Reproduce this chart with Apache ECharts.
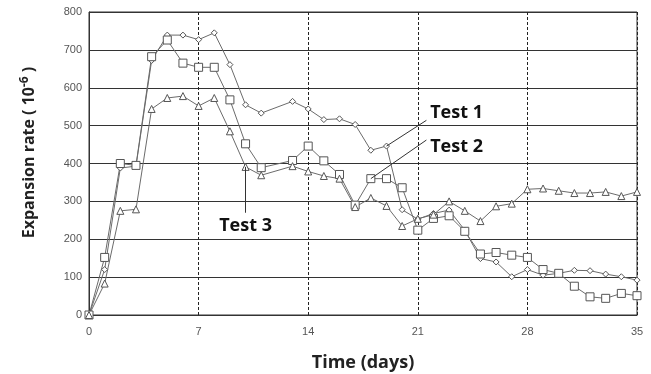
<!DOCTYPE html>
<html>
<head>
<meta charset="utf-8">
<script src="https://cdn.jsdelivr.net/npm/echarts@6/dist/echarts.min.js"></script>
<style>
  html, body { margin: 0; padding: 0; background: #fff; }
  #chart { width: 651px; height: 374px; }
</style>
</head>
<body>
<div id="chart"></div>
<script>
const chart = echarts.init(document.getElementById("chart"));

// days measured (no reading on day 12)
const days = [0, 1, 2, 3, 4, 5, 6, 7, 8, 9, 10, 11, 13, 14, 15, 16, 17, 18, 19, 20,
  21, 22, 23, 24, 25, 26, 27, 28, 29, 30, 31, 32, 33, 34, 35];

const test1 = [0, 120, 388, 393, 672, 739, 739, 727, 745, 661, 555, 533, 564, 544, 516, 518, 503, 435, 446, 278,
  253, 268, 277, 224, 149, 140, 101, 120, 105, 110, 118, 117, 108, 101, 92];
const test2 = [0, 152, 400, 395, 682, 726, 665, 654, 654, 568, 452, 389, 408, 446, 407, 371, 290, 360, 360, 336,
  224, 255, 262, 221, 161, 165, 158, 152, 120, 110, 76, 48, 44, 57, 51];
const test3 = [0, 83, 275, 279, 544, 573, 578, 552, 573, 485, 391, 369, 393, 379, 367, 360, 285, 309, 288, 235,
  254, 265, 300, 275, 248, 287, 294, 332, 334, 328, 322, 322, 325, 314, 325];

// annotation leader lines: [from point, to point] in data units
const leaders = {
  "Test 1": [[19, 446], [21.55, 514]],
  "Test 2": [[18, 360], [21.55, 462]],
  "Test 3": [[10, 391], [10, 270]]
};
const labelAt = {
  "Test 1": [21.6, 534],
  "Test 2": [21.6, 444],
  "Test 3": [10, 236]
};

const pair = (xs, ys) => xs.map((x, i) => [x, ys[i]]);

function makeSeries(name, values, symbol, size) {
  const [a, b] = leaders[name];
  return {
    name: name,
    type: "line",
    data: pair(days, values),
    symbol: symbol,
    symbolSize: size,
    showAllSymbol: true,
    lineStyle: { color: "#6b6b6b", width: 1 },
    itemStyle: { color: "#fff", borderColor: "#555", borderWidth: 1 },
    emphasis: { disabled: true },
    markLine: {
      silent: true,
      symbol: "none",
      lineStyle: { color: "#333", width: 1, type: "solid" },
      label: { show: false },
      data: [[{ coord: a }, { coord: b }]]
    },
    markPoint: {
      silent: true,
      symbolSize: 0,
      label: {
        show: true,
        formatter: name,
        position: name === "Test 3" ? "inside" : "right",
        distance: 3,
        color: "#111",
        fontSize: 18,
        fontWeight: "bold",
        fontFamily: "Open Sans"
      },
      data: [{ coord: labelAt[name] }]
    }
  };
}

chart.setOption({
  animation: false,
  grid: {
    left: 89,
    right: 14,
    top: 12,
    bottom: 59,
    outerBoundsMode: "none",
    show: true,
    borderColor: "#333",
    borderWidth: 1
  },
  xAxis: {
    type: "value",
    min: 0,
    max: 35,
    interval: 7,
    name: "Time (days)",
    nameLocation: "middle",
    nameGap: 39,
    nameTextStyle: { fontSize: 18, fontWeight: "bold", color: "#222", fontFamily: "Open Sans" },
    axisLine: { show: true, lineStyle: { color: "#333" } },
    axisTick: { show: false },
    axisLabel: { color: "#555", fontSize: 11, margin: 11, fontFamily: "Liberation Sans Narrow, Liberation Sans" },
    splitLine: { show: true, lineStyle: { color: "#222", type: [3, 2], width: 1 } }
  },
  yAxis: {
    type: "value",
    min: 0,
    max: 800,
    interval: 100,
    name: "Expansion rate ( 10{sup|-6} )",
    nameLocation: "middle",
    nameGap: 50,
    nameTextStyle: {
      fontSize: 16, fontWeight: "bold", color: "#222", fontFamily: "Open Sans",
      padding: [0, 0, 0, 22],
      rich: {
        sup: { fontSize: 12, fontWeight: "bold", color: "#222", fontFamily: "Open Sans", verticalAlign: "top", padding: [0, 0, 8, 0] }
      }
    },
    axisLine: { show: true, lineStyle: { color: "#333" } },
    axisTick: { show: false },
    axisLabel: { color: "#555", fontSize: 11, margin: 7, fontFamily: "Liberation Sans Narrow, Liberation Sans" },
    splitLine: { show: true, lineStyle: { color: "#333", width: 1 } }
  },
  series: [
    makeSeries("Test 1", test1, "diamond", 6),
    makeSeries("Test 2", test2, "rect", 8),
    makeSeries("Test 3", test3, "triangle", 7)
  ]
});
</script>
</body>
</html>
